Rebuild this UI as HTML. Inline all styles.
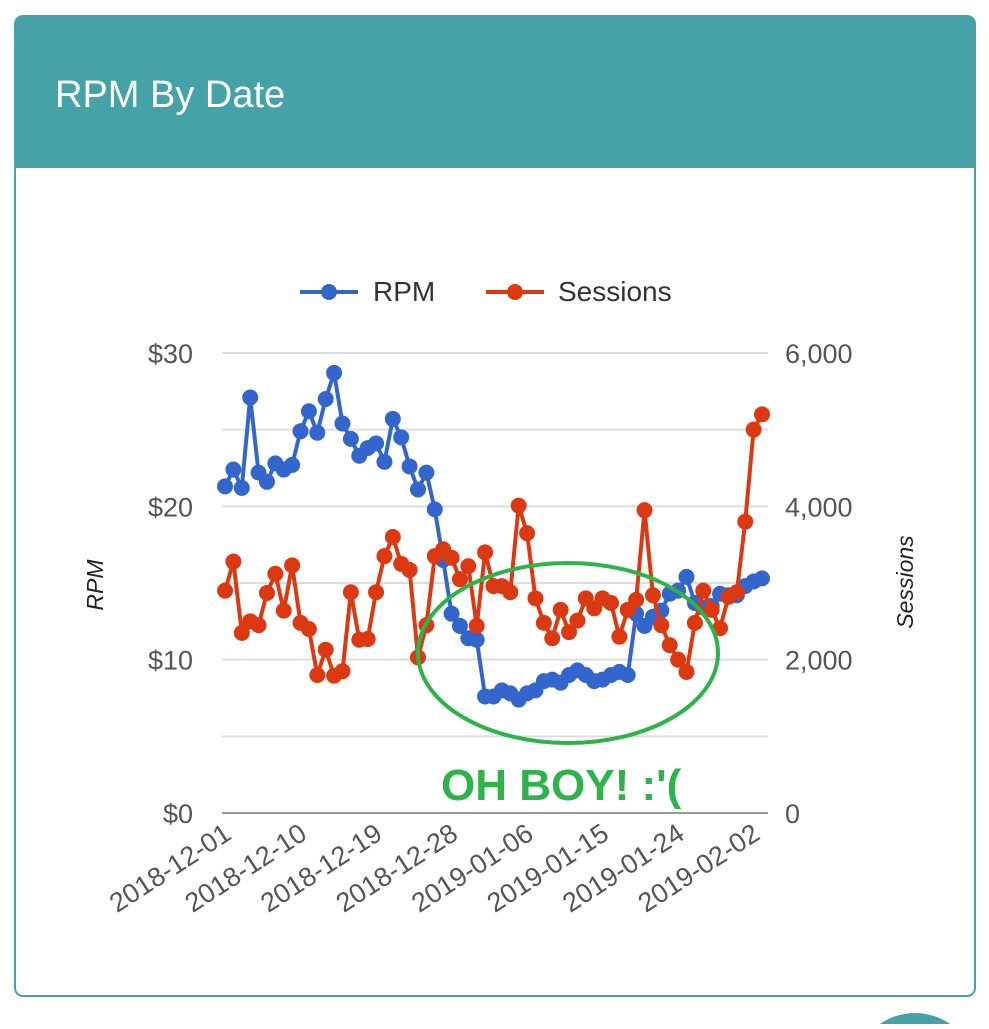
<!DOCTYPE html>
<html><head><meta charset="utf-8"><style>
body{margin:0;width:989px;height:1024px;background:#fff;overflow:hidden;font-family:"Liberation Sans",sans-serif;}
</style></head><body>
<svg width="989" height="1024" xmlns="http://www.w3.org/2000/svg">
<rect x="15" y="16" width="960" height="980" rx="8" fill="#fff" stroke="#45a3a8" stroke-width="2"/>
<path d="M15,24 a8,8 0 0 1 8,-8 h944 a8,8 0 0 1 8,8 V168 H15 Z" fill="#45a3a8"/>
<text x="55" y="107" font-size="38" fill="#fff">RPM By Date</text>
<circle cx="915" cy="1075" r="62" fill="#45a3a8"/>
<g>
<g><line x1="300" y1="292" x2="358" y2="292" stroke="#3366cc" stroke-width="4"/><circle cx="329" cy="292" r="8" fill="#3366cc"/><text x="373" y="301" font-size="28" fill="#333">RPM</text></g>
<g><line x1="486" y1="292" x2="544" y2="292" stroke="#dc3912" stroke-width="4"/><circle cx="515" cy="292" r="8" fill="#dc3912"/><text x="558" y="301" font-size="28" fill="#333">Sessions</text></g>
</g>
<g id="grid"></g><g id="axes"></g><g id="series"></g>
<text transform="translate(103,585) rotate(-90)" text-anchor="middle" font-size="23" font-style="italic" fill="#222">RPM</text>
<text transform="translate(913,582) rotate(-90)" text-anchor="middle" font-size="23" font-style="italic" fill="#222">Sessions</text>
<ellipse cx="568" cy="653" rx="150" ry="90" fill="none" stroke="#2db34a" stroke-width="4"/>
<text x="441" y="800" font-size="44" font-weight="bold" fill="#2db34a">OH BOY! :'(</text>
</svg>
<script>
const rpm=[21.3,22.4,21.2,27.1,22.2,21.6,22.8,22.4,22.7,24.9,26.2,24.8,27.0,28.7,25.4,24.4,23.3,23.8,24.1,22.9,25.7,24.5,22.6,21.1,22.2,19.8,16.5,13.0,12.2,11.4,11.3,7.6,7.6,8.0,7.8,7.4,7.8,8.0,8.6,8.7,8.5,9.0,9.3,9.0,8.6,8.7,9.0,9.2,9.0,13.0,12.2,12.8,13.2,14.3,14.5,15.4,13.7,13.4,13.5,14.3,14.2,14.2,14.8,15.1,15.3];
const sessions=[2900,3280,2350,2500,2450,2870,3120,2640,3230,2480,2400,1800,2130,1790,1850,2880,2260,2270,2880,3350,3600,3250,3170,2030,2450,3350,3440,3330,3050,3220,2440,3400,2960,2960,2880,4010,3650,2800,2480,2280,2650,2360,2510,2800,2670,2800,2740,2300,2650,2780,3950,2840,2450,2190,2000,1840,2480,2900,2650,2410,2820,2880,3800,5000,5200];
const leftTicks=["$0","$10","$20","$30"];
const rightTicks=["0","2,000","4,000","6,000"];
const dateLabels=["2018-12-01","2018-12-10","2018-12-19","2018-12-28","2019-01-06","2019-01-15","2019-01-24","2019-02-02"];
const NS="http://www.w3.org/2000/svg";
const X0=225,X1=762,Y0=813,Y1=353;
const n=Math.max(rpm.length,sessions.length);
const xs=i=>X0+(X1-X0)*i/(n-1);
const yL=v=>Y0-(Y0-Y1)*v/30;
const yR=v=>Y0-(Y0-Y1)*v/6000;
function mk(t,a,p){const e=document.createElementNS(NS,t);for(const k in a)e.setAttribute(k,a[k]);p.appendChild(e);return e;}
const grid=document.getElementById('grid'),axes=document.getElementById('axes'),ser=document.getElementById('series');
for(let k=0;k<=6;k++){const y=Y0-(Y0-Y1)*k/6;const l=mk('line',{x1:222,x2:768,y1:y,y2:y,stroke:k==0?'#999':'#ddd','stroke-width':2},grid);

}
leftTicks.forEach((t,i)=>{const e=mk('text',{x:193,y:yL(i*10)+10,'text-anchor':'end','font-size':27,fill:'#555'},axes);e.textContent=t;

});
rightTicks.forEach((t,i)=>{const e=mk('text',{x:785,y:yR(i*2000)+10,'font-size':27,fill:'#555'},axes);e.textContent=t;

});
dateLabels.forEach((t,i)=>{const x=xs(i*9)+8,y=838;const e=mk('text',{transform:`translate(${x},${y}) rotate(-33)`,'text-anchor':'end','font-size':27,fill:'#555'},axes);e.textContent=t;

});
function series(vals,yf,col,name){
 const g=mk('g',{},ser);
 
 
 const p=mk('polyline',{points:vals.map((v,i)=>xs(i)+','+yf(v)).join(' '),fill:'none',stroke:col,'stroke-width':4,'stroke-linejoin':'round'},g);
 
 
 vals.forEach((v,i)=>{const c=mk('circle',{cx:xs(i),cy:yf(v),r:8,fill:col},g);
 
 });
}
series(rpm,yL,'#3366cc','rpm');
series(sessions,yR,'#dc3912','sessions');
</script>
</body></html>
